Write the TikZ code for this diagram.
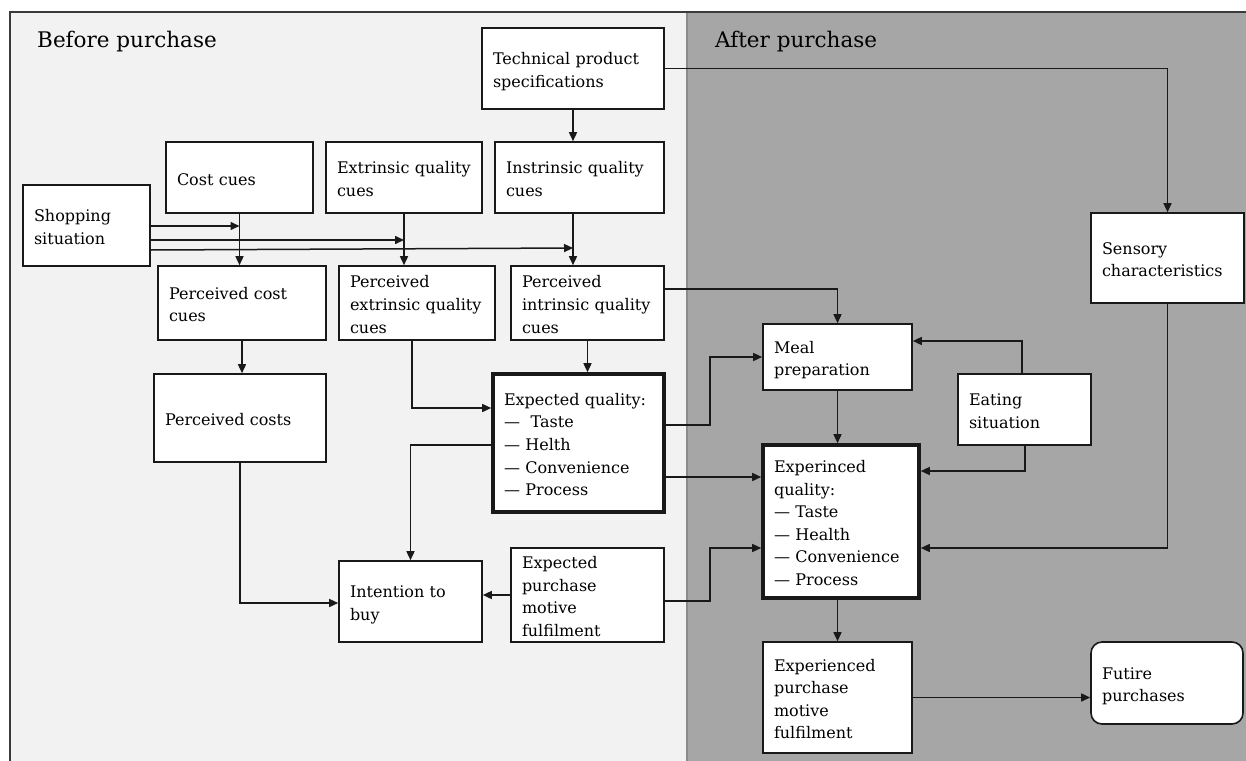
\documentclass[tikz,border=0pt]{standalone}
\usepackage{fontspec}
\setmainfont{DejaVu Serif}
\usetikzlibrary{arrows.meta}
\definecolor{leftbg}{HTML}{F2F2F2}
\definecolor{rightbg}{HTML}{A6A6A6}
\definecolor{framecol}{HTML}{3A3A3A}
\definecolor{divcol}{HTML}{8A8A8A}
\newcommand{\lns}[1]{\raisebox{-3pt}[\height][\depth]{\begin{tabular}{@{}l@{}}#1\end{tabular}}}
\tikzset{
  boxstyle/.style={draw=black!90, line width=1.6pt, fill=white, align=left,
    inner xsep=11pt, inner ysep=0pt, font=\fontsize{16}{22.6}\selectfont},
  thickbox/.style={boxstyle, line width=3.6pt},
  arr/.style={line width=1.5pt, draw=black!90, -{Triangle[length=9pt,width=8pt]}},
  title/.style={anchor=base west, inner sep=0pt, font=\fontsize{21.5}{26}\selectfont}
}
\begin{document}
\begin{tikzpicture}[x=1pt,y=-1pt]
\useasboundingbox (0,0) rectangle (1246,760);
% panels
\fill[leftbg] (10,12) rectangle (687,762);
\fill[rightbg] (687,12) rectangle (1248,762);
\draw[divcol, line width=1.4pt] (687,12) -- (687,762);
\draw[framecol, line width=2.2pt] (10,12) rectangle (1250,764);
\node[title] (before) at (37,48) {Before purchase};
\node[title] (after) at (715,48) {After purchase};
% boxes
\node[boxstyle, minimum width=182, minimum height=81, text width=160] (tech) at (573,68.5) {\lns{Technical product\\specifications}};
\node[boxstyle, minimum width=147, minimum height=71, text width=125] (cost) at (239.5,177.5) {\lns{Cost cues}};
\node[boxstyle, minimum width=156, minimum height=71, text width=134] (extr) at (404,177.5) {\lns{Extrinsic quality\\cues}};
\node[boxstyle, minimum width=169, minimum height=71, text width=147] (intr) at (579.5,177.5) {\lns{Instrinsic quality\\cues}};
\node[boxstyle, minimum width=127, minimum height=81, text width=105] (shop) at (86.5,225.5) {\lns{Shopping\\situation}};
\node[boxstyle, minimum width=153, minimum height=90, text width=131] (sens) at (1167.5,258) {\lns{Sensory\\characteristics}};
\node[boxstyle, minimum width=168, minimum height=74, text width=146] (pcost) at (242,303) {\lns{Perceived cost\\cues}};
\node[boxstyle, minimum width=156, minimum height=74, text width=134] (pextr) at (417,303) {\lns{Perceived\\extrinsic quality\\cues}};
\node[boxstyle, minimum width=153, minimum height=74, text width=131] (pintr) at (587.5,303) {\lns{Perceived\\intrinsic quality\\cues}};
\node[boxstyle, minimum width=172, minimum height=88, text width=150] (pcosts) at (240,418) {\lns{Perceived costs}};
\node[thickbox, minimum width=171, minimum height=138, text width=149] (expq) at (578.5,443) {\lns{Expected quality:\\— \ Taste\\— Helth\\— Convenience\\— Process}};
\node[boxstyle, minimum width=149, minimum height=66, text width=127] (meal) at (837.5,357) {\lns{Meal\\preparation}};
\node[boxstyle, minimum width=133, minimum height=71, text width=111] (eat) at (1024.5,409.5) {\lns{Eating\\situation}};
\node[thickbox, minimum width=156, minimum height=153, text width=134] (expd) at (841,521.5) {\lns{Experinced\\quality:\\— Taste\\— Health\\— Convenience\\— Process}};
\node[boxstyle, minimum width=143, minimum height=81, text width=121] (intent) at (410.5,601.5) {\lns{Intention to\\buy}};
\node[boxstyle, minimum width=153, minimum height=94, text width=131] (epm) at (587.5,595) {\lns{Expected\\purchase\\motive\\fulfilment}};
\node[boxstyle, minimum width=149, minimum height=111, text width=127] (xpm) at (837.5,697.5) {\lns{Experienced\\purchase\\motive\\fulfilment}};
\node[boxstyle, rounded corners=11pt, minimum width=152, minimum height=82, text width=130] (fut) at (1167,683) {\lns{Futire\\purchases}};
% connectors
\draw[arr] (tech.south) -- (tech.south |- intr.north);
\draw[arr] (tech.east) -| (sens.north);
\draw[arr] (cost.south) -- (cost.south |- pcost.north);
\draw[arr] (extr.south) -- (extr.south |- pextr.north);
\draw[arr] (tech.south |- intr.south) -- (tech.south |- pintr.north);
\draw[arr] (shop.east |- 0,226) -- (cost.south |- 0,226);
\draw[arr] (shop.east |- 0,240) -- (extr.south |- 0,240);
\draw[arr] (shop.east |- 0,250) -- (tech.south |- 0,248);
\draw[arr] (pcost.south) -- (pcost.south |- pcosts.north);
\draw[arr] (pcosts.south) |- (intent.west |- 0,603);
\coordinate (pe) at (412,340);
\draw[arr] (pe) |- (expq.west |- 0,408);
\draw[arr] (pintr.south) -- (pintr.south |- expq.north);
\draw[arr] (expq.west |- 0,445) -| (intent.north);
\coordinate (k1) at (710,425);
\draw[arr] (expq.east |- k1) -- (k1) |- (meal.west);
\draw[arr] (expq.east |- 0,477) -- (expd.west |- 0,477);
\draw[arr] (pintr.east |- 0,289) -| (meal.north);
\draw[arr] (meal.south) -- (meal.south |- expd.north);
\coordinate (e1) at (1022,341);
\draw[arr] (e1 |- eat.north) -- (e1) -- (meal.east |- e1);
\coordinate (e2) at (1025,471);
\draw[arr] (e2 |- eat.south) -- (e2) -- (expd.east |- e2);
\draw[arr] (sens.south) |- (expd.east |- 0,548);
\draw[arr] (epm.west |- 0,595) -- (intent.east |- 0,595);
\coordinate (k2) at (710,601);
\draw[arr] (epm.east |- k2) -- (k2) |- (expd.west |- 0,548);
\draw[arr] (xpm.north |- expd.south) -- (xpm.north);
\draw[arr] (xpm.east) -- (xpm.east -| fut.west);
\end{tikzpicture}
\end{document}
